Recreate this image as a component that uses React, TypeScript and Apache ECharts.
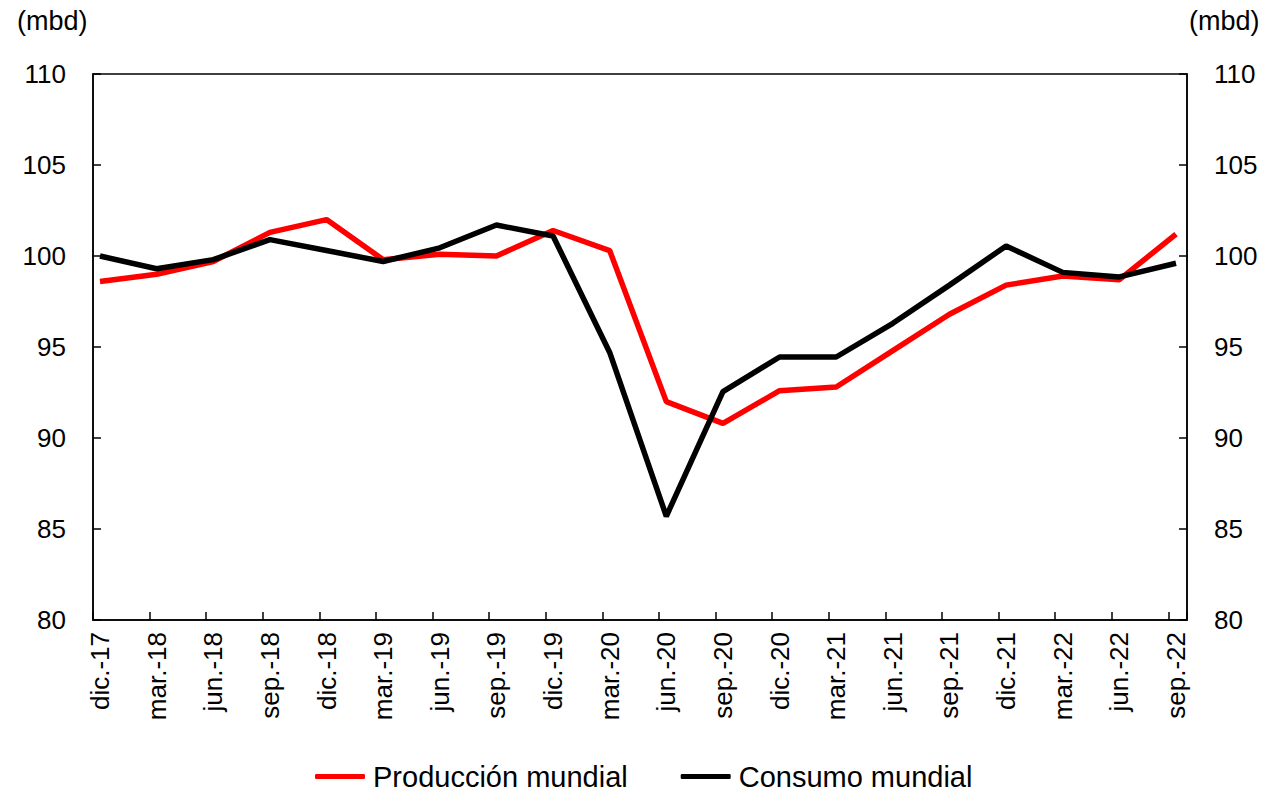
import React, { useEffect, useRef } from "react";
import * as echarts from "echarts";

const categories = [
  "dic.-17", "mar.-18", "jun.-18", "sep.-18", "dic.-18", "mar.-19", "jun.-19",
  "sep.-19", "dic.-19", "mar.-20", "jun.-20", "sep.-20", "dic.-20", "mar.-21",
  "jun.-21", "sep.-21", "dic.-21", "mar.-22", "jun.-22", "sep.-22",
];
const produccion = [
  98.6, 99.0, 99.7, 101.3, 102.0, 99.8, 100.1, 100.0, 101.4, 100.3,
  92.0, 90.8, 92.6, 92.8, 94.8, 96.8, 98.4, 98.9, 98.7, 101.2,
];
const consumo = [
  100.0, 99.3, 99.8, 100.9, 100.3, 99.7, 100.45, 101.7, 101.1, 94.7,
  85.7, 92.55, 94.45, 94.45, 96.3, 98.4, 100.55, 99.1, 98.85, 99.6,
];
const seriesNames = ["Producción mundial", "Consumo mundial"];
const unitLabel = "(mbd)";
const yMin = 80;
const yMax = 110;
const yStep = 5;

const FONT = "'Liberation Sans', Arial, sans-serif";

export default function App() {
  const ref = useRef<HTMLDivElement>(null);
  useEffect(() => {
    if (!ref.current) return;
    const chart = echarts.init(ref.current, null, { renderer: "svg" });
    const yCommon = {
      type: "value",
      gridIndex: 0,
      min: yMin,
      max: yMax,
      interval: yStep,
      axisLine: { show: true, lineStyle: { color: "#000", width: 1.5 } },
      axisTick: { show: true, inside: true, length: 8, lineStyle: { color: "#000", width: 1.5 } },
      splitLine: { show: false },
      axisLabel: { color: "#000", fontSize: 26, fontFamily: FONT, margin: 27 },
    };
    chart.setOption({
      animation: false,
      backgroundColor: "#fff",
      textStyle: { fontFamily: FONT },
      grid: [
        { left: 93, right: 75, top: 74, bottom: 173, show: true, borderColor: "#000", borderWidth: 1.5, backgroundColor: "transparent" },
        { left: 100, right: 86, top: 74, bottom: 173 },
      ],
      xAxis: [
        {
          type: "value",
          gridIndex: 0,
          min: 0,
          max: 19.33,
          interval: 1,
          axisLine: { show: true, lineStyle: { color: "#000", width: 1.5 } },
          axisTick: { show: true, inside: true, length: 8, lineStyle: { color: "#000", width: 1.5 } },
          axisLabel: { show: false },
          splitLine: { show: false },
        },
        {
          type: "category",
          gridIndex: 1,
          data: categories,
          boundaryGap: false,
          axisLine: { show: false },
          axisTick: { show: false },
          splitLine: { show: false },
          axisLabel: {
            rotate: 90,
            interval: 0,
            color: "#000",
            fontSize: 26,
            fontFamily: FONT,
            margin: 12,
          },
        },
      ],
      yAxis: [
        { ...yCommon, position: "left" },
        { ...yCommon, position: "right" },
        { type: "value", gridIndex: 1, min: yMin, max: yMax, show: false },
      ],
      legend: {
        left: 315,
        top: 762,
        padding: 0,
        itemWidth: 50,
        itemHeight: 5,
        itemGap: 53,
        icon: "roundRect",
        textStyle: { color: "#000", fontSize: 29, fontFamily: FONT, padding: [0, 0, 0, 3] },
        data: seriesNames,
      },
      graphic: [
        { type: "text", left: 17, top: 7, style: { text: unitLabel, fontSize: 27, fontFamily: FONT, fill: "#000" } },
        { type: "text", left: 1189, top: 7, style: { text: unitLabel, fontSize: 27, fontFamily: FONT, fill: "#000" } },
      ],
      series: [
        {
          name: seriesNames[0],
          type: "line",
          xAxisIndex: 1,
          yAxisIndex: 2,
          data: produccion,
          symbol: "none",
          color: "#ff0000",
          lineStyle: { color: "#ff0000", width: 5.5 },
        },
        {
          name: seriesNames[1],
          type: "line",
          xAxisIndex: 1,
          yAxisIndex: 2,
          data: consumo,
          symbol: "none",
          color: "#000000",
          lineStyle: { color: "#000000", width: 5.5 },
        },
      ],
    });
    return () => chart.dispose();
  }, []);
  return (
    <div
      ref={ref}
      style={{ position: "fixed", left: 0, top: 0, width: 1262, height: 793 }}
    />
  );
}
